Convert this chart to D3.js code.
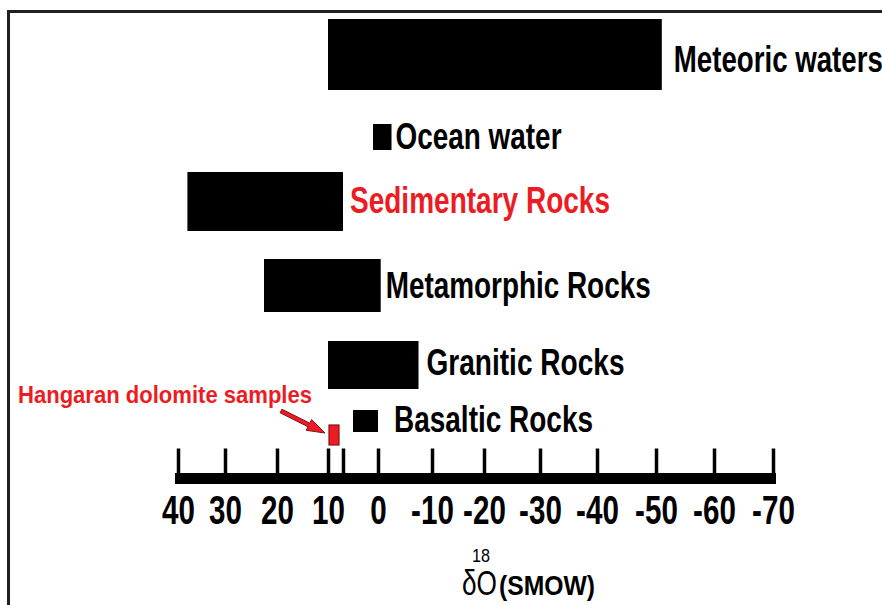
<!DOCTYPE html>
<html>
<head>
<meta charset="utf-8">
<script src="https://cdn.jsdelivr.net/npm/d3@7"></script>
<style>
  body { margin: 0; background: #fff; }
  svg { display: block; }
  text { font-family: "Liberation Sans", Arial, sans-serif; font-weight: bold; }
</style>
</head>
<body>
<svg></svg>
<script>

// Data: oxygen isotope ranges (heavier end, lighter end) per reservoir
const categories = ["Meteoric waters", "Ocean water", "Sedimentary Rocks", "Metamorphic Rocks", "Granitic Rocks", "Basaltic Rocks"];
const highValues = [10, 1, 38, 22.5, 10, 5];
const lowValues = [-51, -2.5, 7, -0.5, -7.5, 0];
const highlighted = ["Sedimentary Rocks"];

const sampleLabel = "Hangaran dolomite samples";
const sampleRange = [10, 8];

const tickValues = [40, 30, 20, 10, 0, -10, -20, -30, -40, -50, -60, -70];
const extraTicks = [7];

let width = 882, height = 605;

let svg = d3.select("svg")
    .attr("width", width)
    .attr("height", height);

let red = "#ec1c24";

// frame (only top and left edges are visible)
svg.append("rect")
    .attr("x", 8.5)
    .attr("y", 11.5)
    .attr("width", 1000)
    .attr("height", 1000)
    .attr("fill", "none")
    .attr("stroke", "#231f20")
    .attr("stroke-width", 3)

// the axis in the figure is hand drawn, so the spacing is not quite even
let x = d3.scaleLinear()
    .domain(tickValues)
    .range([178, 225, 277, 328, 378, 432, 484, 540, 597, 656, 714, 773]);

let rowY = d3.scaleOrdinal()
    .domain(categories)
    .range([54.5, 137, 201.5, 285.5, 365, 421]);

let rowH = d3.scaleOrdinal()
    .domain(categories)
    .range([71, 26, 59, 53, 48, 22]);

// label placement tweaks (gap after bar, baseline offset, drawn width)
let labelGap = d3.scaleOrdinal()
    .domain(categories)
    .range([12, 4, 7, 5, 8, 16]);

let labelDy = d3.scaleOrdinal()
    .domain(categories)
    .range([17.5, 12, 11.5, 12.5, 10, 11]);

let labelW = d3.scaleOrdinal()
    .domain(categories)
    .range([209, 166, 260, 265, 198, 199]);

let rows = categories.map((c, i) => ({ name: c, hi: highValues[i], lo: lowValues[i] }));

//Bars
svg.append("g")
    .selectAll("rect")
    .data(rows)
    .enter()
    .append("rect")
    .attr("x", d => x(d.hi))
    .attr("width", d => x(d.lo) - x(d.hi))
    .attr("y", d => rowY(d.name) - rowH(d.name) / 2)
    .attr("height", d => rowH(d.name))
    .attr("fill", "#000")

//Labels
svg.append("g")
    .selectAll("text")
    .data(rows)
    .enter()
    .append("text")
    .attr("x", d => x(d.lo) + labelGap(d.name))
    .attr("y", d => rowY(d.name) + labelDy(d.name))
    .attr("textLength", d => labelW(d.name))
    .attr("lengthAdjust", "spacingAndGlyphs")
    .style("font-size", "37px")
    .attr("fill", d => highlighted.includes(d.name) ? red : "#000")
    .text(d => d.name)

//Sample box + arrow
svg.append("rect")
    .attr("x", x(sampleRange[0]) + 1)
    .attr("width", x(sampleRange[1]) - x(sampleRange[0]))
    .attr("y", 425)
    .attr("height", 20)
    .attr("fill", red)
    .attr("stroke", "#8a1015")
    .attr("stroke-width", 1.2)

svg.append("text")
    .attr("x", 18)
    .attr("y", 403)
    .attr("textLength", 294)
    .attr("lengthAdjust", "spacingAndGlyphs")
    .style("font-size", "24px")
    .attr("fill", red)
    .text(sampleLabel)

let tipX = x(sampleRange[0]) - 3, tipY = 433;
let tailX = 281, tailY = 411;
let ang = Math.atan2(tipY - tailY, tipX - tailX);
let hx = tipX - 18 * Math.cos(ang), hy = tipY - 18 * Math.sin(ang);
let px = -Math.sin(ang), py = Math.cos(ang);
svg.append("path")
    .attr("d", `M${tailX - 2 * px},${tailY - 2 * py} L${hx - 2 * px},${hy - 2 * py} L${hx - 6 * px},${hy - 6 * py} L${tipX},${tipY} L${hx + 6 * px},${hy + 6 * py} L${hx + 2 * px},${hy + 2 * py} L${tailX + 2 * px},${tailY + 2 * py} Z`)
    .attr("fill", red)
    .attr("stroke", "#8a1015")
    .attr("stroke-width", 1)

//Axis
let axis = svg.append("g")
    .attr("transform", "translate(0,478.5)")
    .call(d3.axisBottom(x)
        .tickValues(tickValues.concat(extraTicks))
        .tickSize(-30)
        .tickSizeOuter(0)
        .tickFormat(d => extraTicks.includes(d) ? "" : d))

axis.select(".domain")
    .attr("stroke", "#000")
    .attr("stroke-width", 11)
    .attr("d", `M${x(40) - 3},0H${x(-70) + 3}`)

axis.selectAll(".tick line")
    .attr("stroke", "#000")
    .attr("stroke-width", 3.5)

// condensed look of the original digits
axis.selectAll(".tick text")
    .attr("y", 46)
    .attr("dy", 0)
    .attr("fill", "#000")
    .attr("transform", "scale(0.74,1)")
    .style("font-size", "40px")
    .style("font-family", null)

//Axis title
let title = svg.append("g")

title.append("text")
    .attr("x", 462)
    .attr("y", 595)
    .attr("textLength", 35)
    .attr("lengthAdjust", "spacingAndGlyphs")
    .style("font-size", "35px")
    .style("font-weight", "normal")
    .text("δO")

title.append("text")
    .attr("x", 499)
    .attr("y", 595)
    .attr("textLength", 96)
    .attr("lengthAdjust", "spacingAndGlyphs")
    .style("font-size", "27px")
    .text("(SMOW)")

title.append("text")
    .attr("x", 472)
    .attr("y", 562)
    .attr("textLength", 18)
    .attr("lengthAdjust", "spacingAndGlyphs")
    .style("font-size", "18px")
    .style("font-weight", "normal")
    .text("18")

</script>
</body>
</html>
